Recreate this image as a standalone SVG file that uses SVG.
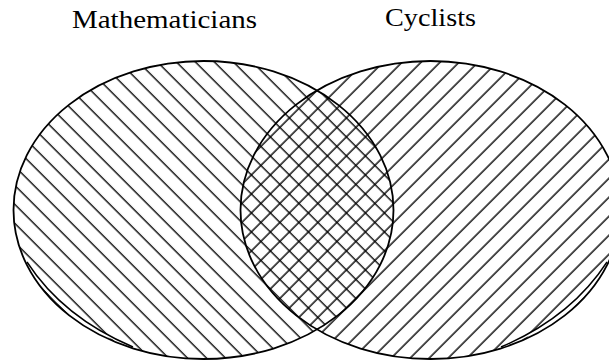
<svg xmlns="http://www.w3.org/2000/svg" width="609" height="362" viewBox="0 0 609 362">
<style>
.outline{fill:none;stroke:#000;stroke-width:1.8}
.hatch{fill:none;stroke:#000;stroke-width:1.4}
.gap{fill:#fff;stroke:none}
.edge{fill:none;stroke:#000;stroke-width:1.4}
.label{font-family:"Liberation Serif","DejaVu Serif",serif;font-size:25px;fill:#000}
</style>
<defs>
<pattern id="nw" patternUnits="userSpaceOnUse" width="13.435" height="10" patternTransform="rotate(-45)">
<path class="hatch" d="M0.354,-1V11M13.789,-1V11M-13.081,-1V11"/>
</pattern>
<pattern id="ne" patternUnits="userSpaceOnUse" width="13.435" height="10" patternTransform="rotate(45)">
<path class="hatch" d="M5.87,-1V11M19.305,-1V11M-7.565,-1V11"/>
</pattern>
</defs>
<rect width="609" height="362" fill="#fff"/>
<g id="mathematicians">
<ellipse cx="203.5" cy="210" rx="190" ry="149" fill="url(#nw)"/>
<path class="gap" d="M27,262 A255,200 0 0 0 133,347 A190,149 0 0 1 27,262 Z"/>
<text class="label" x="72" y="28" textLength="185" lengthAdjust="spacingAndGlyphs">Mathematicians</text>
</g>
<g id="cyclists">
<ellipse cx="430.5" cy="210" rx="190" ry="149" fill="url(#ne)"/>
<path class="gap" d="M607,262 A255,200 0 0 1 501,347 A190,149 0 0 0 607,262 Z"/>
<text class="label" x="385" y="26" textLength="91" lengthAdjust="spacingAndGlyphs">Cyclists</text>
</g>
<g id="connectors">
<ellipse class="outline" cx="203.5" cy="210" rx="190" ry="149"/>
<ellipse class="outline" cx="430.5" cy="210" rx="190" ry="149"/>
<path class="edge" d="M27,262 A255,200 0 0 0 133,347"/>
<path class="edge" d="M607,262 A255,200 0 0 1 501,347"/>
</g>
</svg>
